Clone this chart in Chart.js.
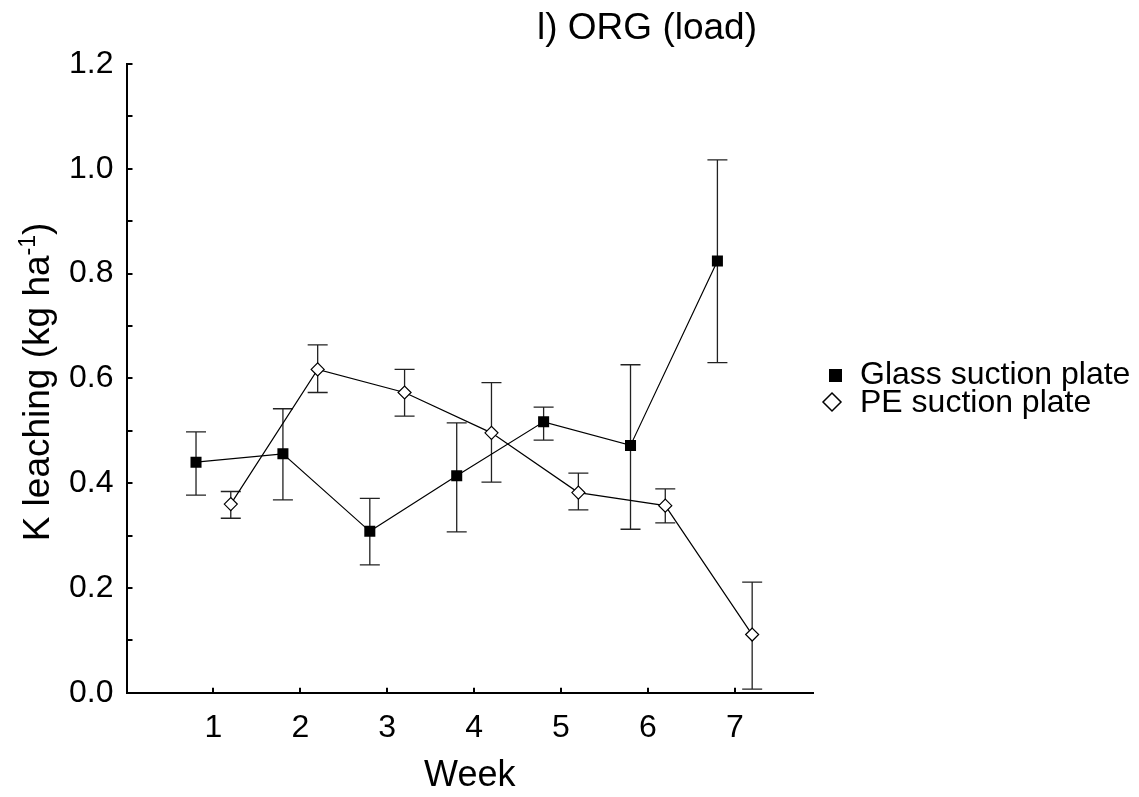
<!DOCTYPE html>
<html>
<head>
<meta charset="utf-8">
<script src="https://cdn.jsdelivr.net/npm/chart.js@4.4.0/dist/chart.umd.min.js"></script>
<style>
  html, body { margin: 0; padding: 0; background: #fff; }
  #wrap { width: 1139px; height: 797px; position: relative; }
</style>
</head>
<body>
<div id="wrap"><canvas id="c" width="1139" height="797"></canvas></div>
<script>
// ---- data ----
const weeks = [1, 2, 3, 4, 5, 6, 7];
const seriesNames = ['Glass suction plate', 'PE suction plate'];
const glassOffset = -0.2;
const peOffset = 0.2;
const glassMean = [0.440, 0.456, 0.308, 0.414, 0.517, 0.472, 0.824];
const glassLow  = [0.377, 0.368, 0.244, 0.307, 0.482, 0.312, 0.630];
const glassHigh = [0.498, 0.542, 0.371, 0.515, 0.545, 0.626, 1.017];
const peMean = [0.360, 0.617, 0.573, 0.496, 0.382, 0.357, 0.111];
const peLow  = [0.333, 0.573, 0.528, 0.402, 0.349, 0.324, 0.007];
const peHigh = [0.384, 0.664, 0.617, 0.592, 0.419, 0.389, 0.211];
const yTickValues = [0, 0.1, 0.2, 0.3, 0.4, 0.5, 0.6, 0.7, 0.8, 0.9, 1.0, 1.1, 1.2];
const yTickLabels = ['0.0', '', '0.2', '', '0.4', '', '0.6', '', '0.8', '', '1.0', '', '1.2'];
const xTickLabels = ['1', '2', '3', '4', '5', '6', '7'];
const chartTitle = 'l) ORG (load)';
const xTitle = 'Week';
const yTitleMain = 'K leaching (kg ha';
const yTitleSup = '-1';
const yTitleEnd = ')';

const FONT = '"Liberation Sans", Arial, sans-serif';

const glassData = weeks.map((w, i) => ({ x: w + glassOffset, y: glassMean[i], lo: glassLow[i], hi: glassHigh[i] }));
const peData = weeks.map((w, i) => ({ x: w + peOffset, y: peMean[i], lo: peLow[i], hi: peHigh[i] }));

const errorBars = {
  id: 'errorBars',
  beforeDatasetsDraw(chart) {
    const ctx = chart.ctx;
    const xs = chart.scales.x, ys = chart.scales.y;
    ctx.save();
    ctx.strokeStyle = '#222';
    ctx.lineWidth = 1.3;
    chart.data.datasets.forEach(ds => {
      ds.data.forEach(p => {
        const x = xs.getPixelForValue(p.x);
        const yl = ys.getPixelForValue(p.lo);
        const yh = ys.getPixelForValue(p.hi);
        ctx.beginPath();
        ctx.moveTo(x, yl); ctx.lineTo(x, yh);
        ctx.moveTo(x - 10, yl); ctx.lineTo(x + 10, yl);
        ctx.moveTo(x - 10, yh); ctx.lineTo(x + 10, yh);
        ctx.stroke();
      });
    });
    ctx.restore();
  }
};

const decorations = {
  id: 'decorations',
  afterDraw(chart) {
    const ctx = chart.ctx;
    const xs = chart.scales.x, ys = chart.scales.y;
    const area = chart.chartArea;
    ctx.save();
    // inward tick marks
    ctx.strokeStyle = '#000';
    ctx.lineWidth = 2;
    ctx.beginPath();
    yTickValues.forEach(v => {
      const y = Math.round(ys.getPixelForValue(v));
      ctx.moveTo(area.left, y); ctx.lineTo(area.left + 6, y);
    });
    weeks.forEach(v => {
      const x = Math.round(xs.getPixelForValue(v));
      ctx.moveTo(x, area.bottom); ctx.lineTo(x, area.bottom - 5);
    });
    ctx.stroke();

    ctx.fillStyle = '#000';
    // title
    ctx.font = '37px ' + FONT;
    ctx.textAlign = 'left';
    ctx.textBaseline = 'middle';
    ctx.fillText(chartTitle, 537, 29);

    // x title
    ctx.textAlign = 'center';
    ctx.font = '36px ' + FONT;
    ctx.fillText(xTitle, (area.left + area.right) / 2, 776);

    // y title rotated with superscript
    ctx.save();
    ctx.translate(49, 382);
    ctx.rotate(-Math.PI / 2);
    ctx.textBaseline = 'alphabetic';
    ctx.textAlign = 'left';
    const mainFont = '37px ' + FONT, supFont = '23px ' + FONT;
    ctx.font = mainFont;
    const w1 = ctx.measureText(yTitleMain).width;
    const w3 = ctx.measureText(yTitleEnd).width;
    ctx.font = supFont;
    const w2 = ctx.measureText(yTitleSup).width;
    const total = w1 + w2 + w3;
    let sx = -total / 2;
    ctx.font = mainFont;
    ctx.fillText(yTitleMain, sx, 0);
    ctx.font = supFont;
    ctx.fillText(yTitleSup, sx + w1, -14);
    ctx.font = mainFont;
    ctx.fillText(yTitleEnd, sx + w1 + w2, 0);
    ctx.restore();

    // legend
    ctx.font = '32px ' + FONT;
    ctx.textAlign = 'left';
    ctx.textBaseline = 'middle';
    // square
    ctx.fillStyle = '#000';
    ctx.fillRect(829, 369, 13, 13);
    ctx.fillText(seriesNames[0], 860, 375);
    // diamond
    ctx.beginPath();
    ctx.moveTo(832, 393); ctx.lineTo(841, 402); ctx.lineTo(832, 411); ctx.lineTo(823, 402); ctx.closePath();
    ctx.fillStyle = '#fff'; ctx.fill();
    ctx.strokeStyle = '#000'; ctx.lineWidth = 1.5; ctx.stroke();
    ctx.fillStyle = '#000';
    ctx.fillText(seriesNames[1], 860, 403);
    ctx.restore();
  }
};

new Chart(document.getElementById('c'), {
  type: 'line',
  data: {
    datasets: [
      {
        label: seriesNames[0],
        data: glassData,
        borderColor: '#000',
        borderWidth: 1.2,
        pointStyle: 'rect',
        pointRadius: 7.8,
        pointBackgroundColor: '#000',
        pointBorderColor: '#000',
        pointBorderWidth: 0,
        tension: 0
      },
      {
        label: seriesNames[1],
        data: peData,
        borderColor: '#000',
        borderWidth: 1.2,
        pointStyle: 'rectRot',
        pointRadius: 6.5,
        pointBackgroundColor: '#fff',
        pointBorderColor: '#000',
        pointBorderWidth: 1.2,
        tension: 0
      }
    ]
  },
  options: {
    responsive: false,
    animation: false,
    devicePixelRatio: 1,
    layout: { padding: { left: 0, right: 326, top: 64, bottom: 0 } },
    plugins: {
      legend: { display: false },
      title: { display: false },
      tooltip: { enabled: false }
    },
    scales: {
      x: {
        type: 'linear',
        min: 0,
        max: 7.9,
        afterBuildTicks: s => { s.ticks = weeks.map(v => ({ value: v })); },
        afterFit: s => { s.height = 104.3; },
        grid: { display: false, drawTicks: false },
        border: { display: true, color: '#000', width: 2 },
        ticks: {
          autoSkip: false,
          maxRotation: 0,
          padding: 16,
          color: '#000',
          font: { family: FONT, size: 32 },
          callback: (v) => xTickLabels[weeks.indexOf(v)] ?? ''
        }
      },
      y: {
        type: 'linear',
        min: 0,
        max: 1.2,
        afterBuildTicks: s => { s.ticks = yTickValues.map(v => ({ value: v })); },
        afterFit: s => { s.width = 126.5; },
        grid: { display: false, drawTicks: false },
        border: { display: true, color: '#000', width: 2 },
        ticks: {
          autoSkip: false,
          padding: 13,
          color: '#000',
          font: { family: FONT, size: 32 },
          callback: (v, i) => yTickLabels[i]
        }
      }
    }
  },
  plugins: [errorBars, decorations]
});
</script>
</body>
</html>
